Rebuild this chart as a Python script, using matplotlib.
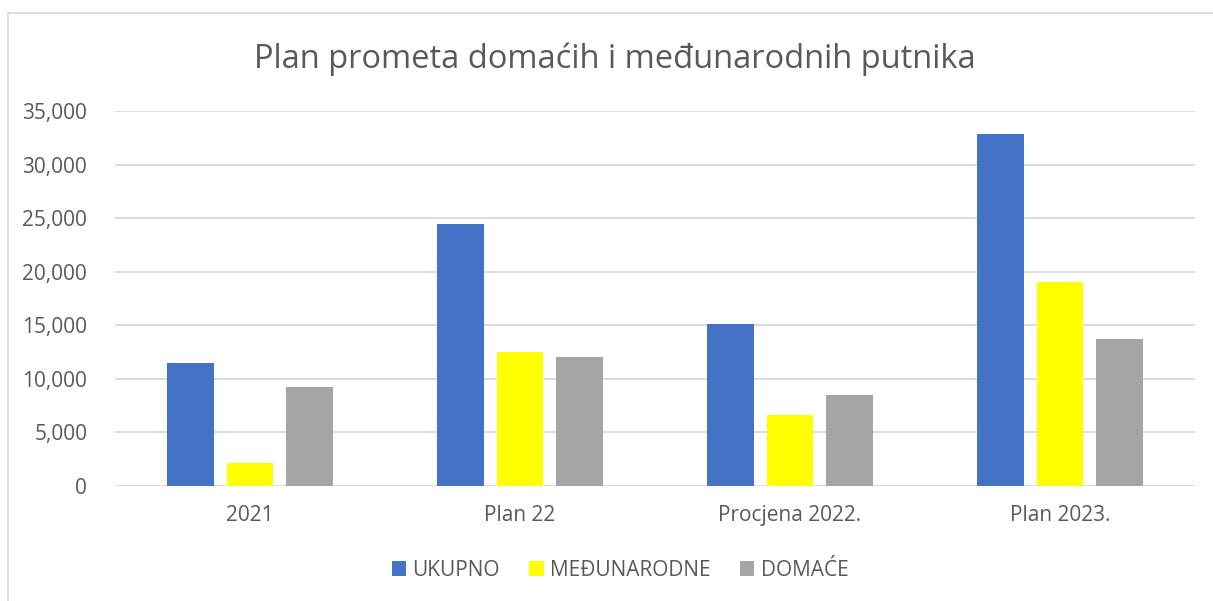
import matplotlib.pyplot as plt
import numpy as np
from matplotlib.patches import Rectangle
from matplotlib.ticker import FuncFormatter

categories = ["2021", "Plan 22", "Procjena 2022.", "Plan 2023."]
series_names = ["UKUPNO", "MEĐUNARODNE", "DOMAĆE"]
ukupno = [11470, 24470, 15140, 32840]
medjunarodne = [2150, 12470, 6600, 19060]
domace = [9260, 12000, 8460, 13710]
colors = ["#4472C4", "#FFFF00", "#A5A5A5"]

TEXT = "#595959"
GRID = "#D9D9D9"

plt.rcParams["font.family"] = ["Open Sans", "DejaVu Sans"]

fig = plt.figure(figsize=(12.13, 6.01), dpi=100)
ax = fig.add_axes([115 / 1213, 1 - 486 / 601, 1080 / 1213, 375 / 601])

# chart outer border (cropped on right/bottom in the reference)
fig.patches.append(Rectangle((7.5 / 1213, -0.1), 1.2, 1 - 12.5 / 601 + 0.1,
                             transform=fig.transFigure, fill=False,
                             edgecolor=GRID, linewidth=1.2))

x = np.arange(len(categories))
width = 0.174
offset = 0.222
for i, (name, vals) in enumerate(zip(series_names, [ukupno, medjunarodne, domace])):
    ax.bar(x + (i - 1) * offset, vals, width, color=colors[i], label=name, zorder=3)

ax.set_xlim(-0.5, 3.5)
ax.set_ylim(0, 35000)
ax.set_yticks(range(0, 35001, 5000))
ax.yaxis.set_major_formatter(FuncFormatter(lambda v, p: f"{int(v):,}"))
ax.set_xticks(x)
ax.set_xticklabels(categories)
ax.grid(axis="y", color=GRID, linewidth=1.3, zorder=0)
for s in ax.spines.values():
    s.set_visible(False)
ax.tick_params(axis="both", length=0, colors=TEXT, labelsize=15)
ax.tick_params(axis="y", pad=20)
ax.tick_params(axis="x", pad=14)

fig.text(615 / 1213, 1 - 59 / 601, "Plan prometa domaćih i međunarodnih putnika",
         ha="center", va="center", fontsize=23.5, color=TEXT)

fig.legend(loc="center", bbox_to_anchor=(620 / 1213, 1 - 570 / 601), ncol=3,
           frameon=False, fontsize=15, labelcolor=TEXT, handlelength=0.7,
           handleheight=0.7, handletextpad=0.3, columnspacing=1.4)

fig.savefig("out.png", dpi=100)
